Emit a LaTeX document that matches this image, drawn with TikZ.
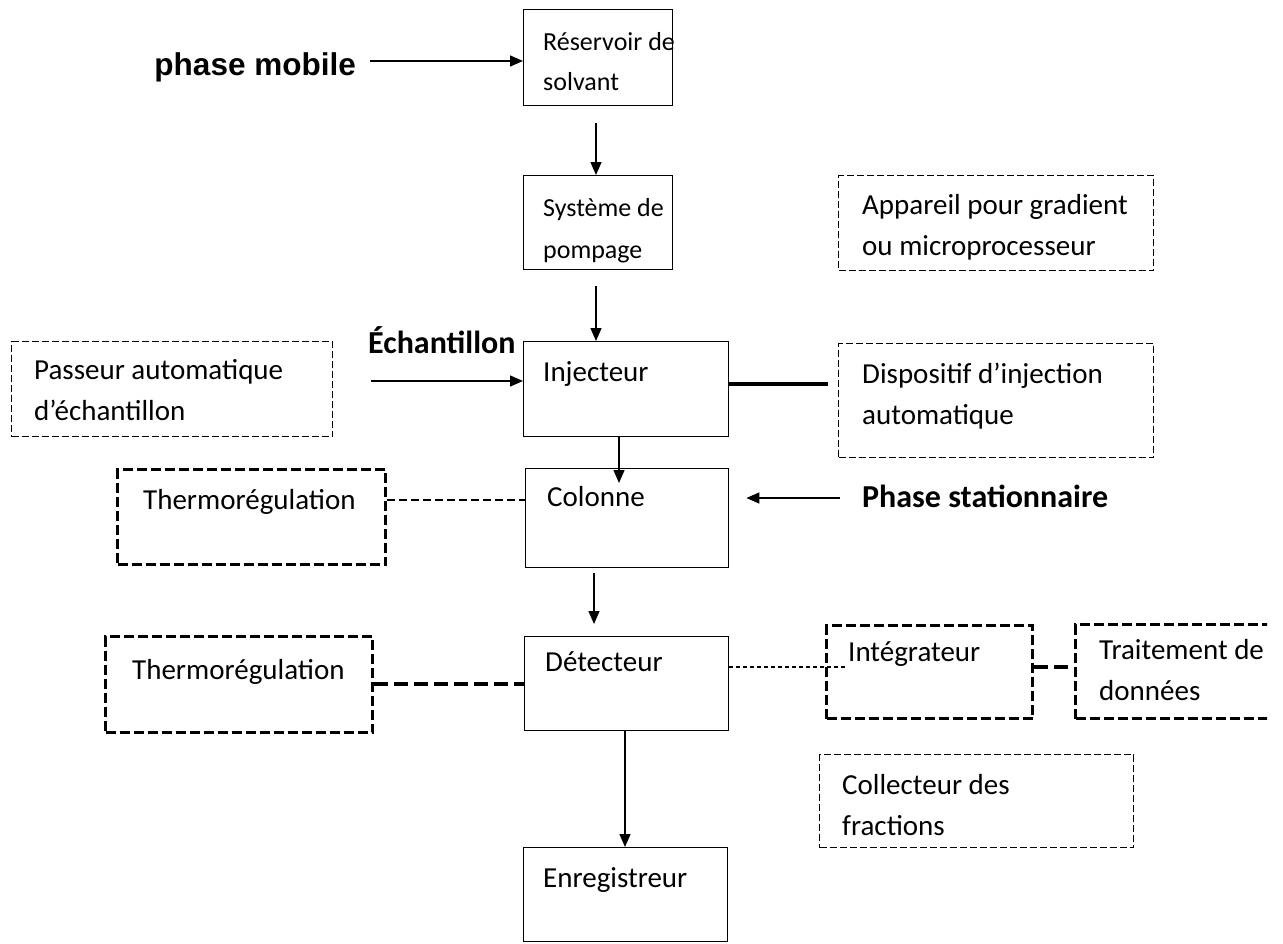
\documentclass[tikz,border=0pt]{standalone}
\usepackage{fontspec}
\setmainfont{Carlito}
\newfontfamily\arialfont{Liberation Sans}
\usetikzlibrary{arrows.meta}
\newcommand{\twol}[2]{\begin{tabular}[t]{@{}l@{}}#1\\#2\end{tabular}}
\begin{document}
\begin{tikzpicture}[x=1pt,y=-1pt,
  solidbox/.style={draw, line width=1.4pt, rectangle, inner sep=0pt, anchor=north west},
  thinbox/.style={solidbox, dash pattern=on 7pt off 3pt},
  thickbox/.style={solidbox, line width=3.2pt, dash pattern=on 10pt off 4pt},
  txt/.style={anchor=base west, inner sep=0pt, font=\fontsize{29}{41}\selectfont},
  lbl/.style={inner sep=0pt, font=\bfseries\fontsize{32}{38}\selectfont},
  arr/.style={-{Triangle[length=13pt,width=11pt]}, line width=1.4pt},
  dashA/.style={line width=2pt, dash pattern=on 8pt off 4pt},
  dashB/.style={line width=3.5pt, dash pattern=on 14pt off 6pt},
  dotC/.style={line width=1.5pt, dash pattern=on 4pt off 3pt},
  thickline/.style={line width=4pt},
]
\useasboundingbox (0,0) rectangle (1283,943);

% boxes
\node[solidbox, minimum width=149, minimum height=96] (res) at (523,9) {};
\node[solidbox, minimum width=149, minimum height=94] (sys) at (523,175) {};
\node[thinbox, minimum width=315, minimum height=95] (app) at (838,175) {};
\node[solidbox, minimum width=205, minimum height=95] (inj) at (523,341) {};
\node[thinbox, minimum width=321, minimum height=95] (pas) at (11,341) {};
\node[thinbox, minimum width=315, minimum height=114] (disp) at (838,343) {};
\node[solidbox, minimum width=203, minimum height=99] (col) at (525,468) {};
\node[thickbox, minimum width=268, minimum height=95] (th1) at (116,468) {};
\node[solidbox, minimum width=204, minimum height=94] (det) at (524,636) {};
\node[thickbox, minimum width=267, minimum height=96] (th2) at (104,635) {};
\node[thickbox, minimum width=206, minimum height=93] (intg) at (825,624) {};
\begin{scope}
\clip (0,0) rectangle (1267,943);
\node[thickbox, minimum width=240, minimum height=94] (trt) at (1074,623) {};
\end{scope}
\node[thinbox, minimum width=314, minimum height=93] (coll) at (819,754) {};
\node[solidbox, minimum width=204, minimum height=94] (enr) at (523,847) {};

% texts in boxes
\node[txt, font=\fontsize{26}{40}\selectfont] (tres) at (543,50) {\twol{Réservoir de}{solvant}};
\node[txt, font=\fontsize{26}{42}\selectfont] (tsys) at (543,216) {\twol{Système de}{pompage}};
\node[txt] (tapp) at (862,214) {\twol{Appareil pour gradient}{ou microprocesseur}};
\node[txt] (tinj) at (543,381) {Injecteur};
\node[txt] (tpas) at (34,379) {\twol{Passeur automatique}{d’échantillon}};
\node[txt] (tdisp) at (862,383) {\twol{Dispositif d’injection}{automatique}};
\node[txt] (tcol) at (547,506) {Colonne};
\node[txt] (tth1) at (143,509) {Thermorégulation};
\node[txt] (tdet) at (545,671) {Détecteur};
\node[txt] (tth2) at (132,679) {Thermorégulation};
\node[txt] (tint) at (848,661) {Intégrateur};
\node[txt] (ttrt) at (1099,659) {\twol{Traitement de}{données}};
\node[txt] (tcoll) at (842,794) {\twol{Collecteur des}{fractions}};
\node[txt] (tenr) at (543,887) {Enregistreur};

% free labels
\node[anchor=base east, inner sep=0pt, font=\arialfont\bfseries\fontsize{31.5}{36}\selectfont] (pm) at (356,75) {phase mobile};
\node[lbl, anchor=base west] (ech) at (368,353) {Échantillon};
\node[lbl, anchor=base west] (ps) at (862,507) {Phase stationnaire};

% connectors
\draw[arr, shorten <=14pt] (pm.east |- 0,61) -- (res.west |- 0,61);
\draw[arr, shorten <=17pt] (res.south -| 596,0) -- (sys.north -| 596,0);
\draw[arr, shorten <=16pt] (sys.south -| 596,0) -- (inj.north -| 596,0);
\draw[arr, shorten <=38pt] (pas.east |- 0,381) -- (inj.west |- 0,381);
\draw[thickline, shorten >=10pt] (inj.east |- 0,384) -- (disp.west |- 0,384);
\draw[arr, shorten >=-15pt] (inj.south -| 619,0) -- (col.north -| 619,0);
\draw[dashA] (th1.east |- 0,500) -- (col.west |- 0,500);
\draw[arr, shorten <=22pt, shorten >=17pt] (ps.west |- 0,498) -- (col.east |- 0,498);
\draw[arr, shorten <=5pt, shorten >=12pt] (col.south -| 594,0) -- (det.north -| 594,0);
\draw[dashB] (th2.east |- 0,684) -- (det.west |- 0,684);
\draw[dotC, shorten >=-22pt] (det.east |- 0,667) -- (intg.west |- 0,667);
\draw[dashB] (intg.east |- 0,667) -- (trt.west |- 0,667);
\draw[arr] (det.south -| 625,0) -- (enr.north -| 625,0);
\end{tikzpicture}
\end{document}
